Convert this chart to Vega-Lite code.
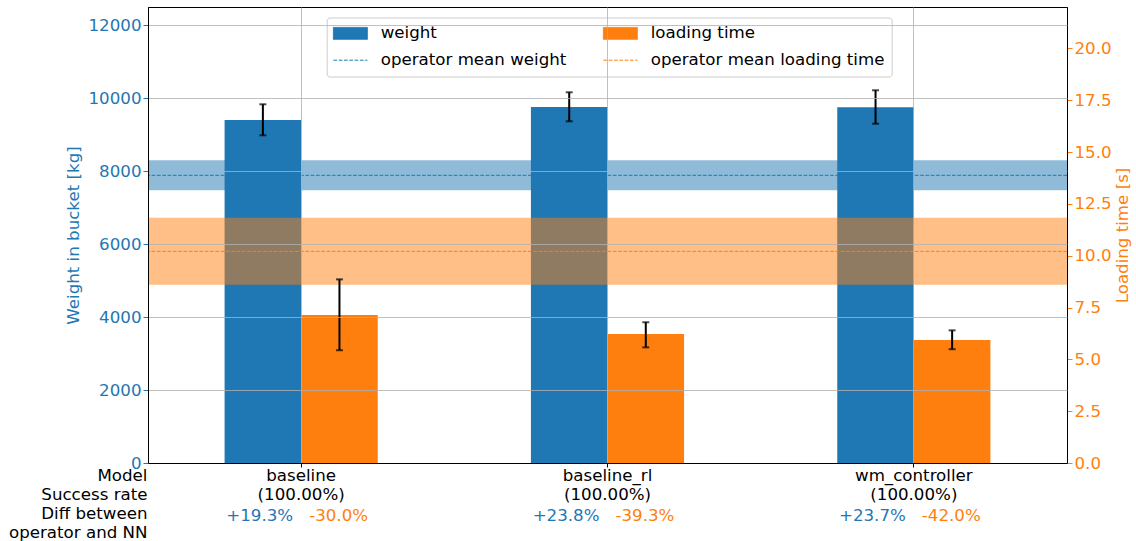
{
  "$schema": "https://vega.github.io/schema/vega-lite/v6.json",
  "width": 919,
  "height": 456,
  "autosize": {"type": "none"},
  "padding": {"left": 148, "top": 7, "right": 69, "bottom": 78},
  "background": "white",
  "config": {
    "font": "DejaVu Sans",
    "view": {"stroke": "black", "strokeWidth": 1},
    "axis": {
      "labelFont": "DejaVu Sans", "titleFont": "DejaVu Sans",
      "labelFontSize": 16.67, "titleFontSize": 16.67, "titleFontWeight": "normal",
      "domainColor": "black", "domainWidth": 1,
      "gridColor": "#b0b0b0", "gridWidth": 0.8, "gridOpacity": 1, "tickWidth": 1
    },
    "legend": {"labelFont": "DejaVu Sans", "labelFontSize": 16.67, "labelColor": "black"}
  },
  "datasets": {
    "models": [
      {"model": "baseline", "success": "(100.00%)", "weight": 9402, "w_lo": 8983, "w_hi": 9833, "time": 7.14, "t_lo": 5.44, "t_hi": 8.86, "w_diff": "+19.3%", "t_diff": "-30.0%"},
      {"model": "baseline_rl", "success": "(100.00%)", "weight": 9759, "w_lo": 9367, "w_hi": 10162, "time": 6.22, "t_lo": 5.58, "t_hi": 6.79, "w_diff": "+23.8%", "t_diff": "-39.3%"},
      {"model": "wm_controller", "success": "(100.00%)", "weight": 9752, "w_lo": 9301, "w_hi": 10217, "time": 5.93, "t_lo": 5.49, "t_hi": 6.40, "w_diff": "+23.7%", "t_diff": "-42.0%"}
    ],
    "operator": [
      {"w_mean": 7886, "w_lo": 7475, "w_hi": 8298, "t_mean": 10.21, "t_lo": 8.60, "t_hi": 11.83}
    ]
  },
  "layer": [
    {
      "layer": [
        {
          "data": {"name": "operator"},
          "mark": {"type": "rect", "color": "#1f77b4", "opacity": 0.5},
          "encoding": {
            "y": {
              "field": "w_lo", "type": "quantitative",
              "scale": {"domain": [0, 12500], "nice": false, "zero": false},
              "axis": {
                "orient": "left", "title": "Weight in bucket [kg]", "titleColor": "#1f77b4", "titlePadding": 6,
                "values": [0, 2000, 4000, 6000, 8000, 10000, 12000], "format": "d",
                "labelColor": "#1f77b4", "tickColor": "#1f77b4", "tickSize": 5, "labelPadding": 2,
                "grid": true, "zindex": 1
              }
            },
            "y2": {"field": "w_hi"}
          }
        },
        {
          "data": {"name": "models"},
          "mark": {"type": "bar"},
          "encoding": {
            "x": {
              "field": "model", "type": "nominal", "sort": null,
              "scale": {"type": "band", "paddingInner": 0, "paddingOuter": 0},
              "axis": {
                "title": ["Model", "Success rate", "Diff between", "operator and NN"],
                "titleX": -1, "titleY": 17, "titleAlign": "right", "titleBaseline": "alphabetic",
                "titleLineHeight": 19, "titleColor": "black",
                "labelExpr": "[datum.label, '(100.00%)']", "labelAngle": 0,
                "labelBaseline": "alphabetic", "labelLineHeight": 19, "labelColor": "black",
                "tickSize": 4, "tickColor": "black", "labelPadding": 13,
                "bandPosition": 0.5, "grid": true, "zindex": 1
              }
            },
            "xOffset": {"datum": "weight", "scale": {"domain": ["weight", "loading time"], "paddingInner": 0, "paddingOuter": 1}},
            "y": {"field": "weight", "type": "quantitative"},
            "color": {
              "datum": "weight",
              "scale": {
                "domain": ["weight", "loading time", "operator mean weight", "operator mean loading time"],
                "range": ["#1f77b4", "#ff7f0e", "#1f77b4", "#ff7f0e"]
              },
              "legend": {
                "title": null, "orient": "none", "legendX": 178.7, "legendY": 10.5,
                "columns": 2, "direction": "horizontal", "labelLimit": 0,
                "fillColor": "rgba(255,255,255,0.8)", "strokeColor": "#cccccc", "cornerRadius": 3,
                "padding": 6.7, "symbolSize": 289, "symbolOffset": 8, "labelOffset": 21.3,
                "columnPadding": 35, "rowPadding": 9, "symbolStrokeWidth": 1,
                "encode": {
                  "symbols": {
                    "update": {
                      "shape": {"signal": "indexof(datum.value, 'operator') === 0 ? 'M-2,0H2' : 'M-2,-0.7H2V0.7H-2Z'"},
                      "fill": {"signal": "indexof(datum.value, 'operator') === 0 ? 'transparent' : (datum.value === 'weight' ? '#1f77b4' : '#ff7f0e')"},
                      "stroke": {"signal": "datum.value === 'operator mean weight' ? '#1f77b4' : (datum.value === 'operator mean loading time' ? '#ff7f0e' : 'transparent')"},
                      "strokeDash": {"signal": "indexof(datum.value, 'operator') === 0 ? [3.7, 1.6] : [1, 0]"},
                      "strokeWidth": {"value": 1},
                      "opacity": {"value": 1},
                      "fillOpacity": {"value": 1}
                    }
                  }
                }
              }
            }
          }
        },
        {
          "data": {"name": "models"},
          "mark": {"type": "rule", "color": "black", "strokeWidth": 2},
          "encoding": {
            "x": {"field": "model", "type": "nominal", "sort": null},
            "xOffset": {"datum": "weight"},
            "y": {"field": "w_lo", "type": "quantitative"},
            "y2": {"field": "w_hi"}
          }
        },
        {
          "data": {"name": "models"},
          "mark": {"type": "tick", "color": "black", "size": 7, "thickness": 2, "orient": "horizontal"},
          "encoding": {
            "x": {"field": "model", "type": "nominal", "sort": null},
            "xOffset": {"datum": "weight"},
            "y": {"field": "w_lo", "type": "quantitative"}
          }
        },
        {
          "data": {"name": "models"},
          "mark": {"type": "tick", "color": "black", "size": 7, "thickness": 2, "orient": "horizontal"},
          "encoding": {
            "x": {"field": "model", "type": "nominal", "sort": null},
            "xOffset": {"datum": "weight"},
            "y": {"field": "w_hi", "type": "quantitative"}
          }
        },
        {
          "data": {"name": "operator"},
          "mark": {"type": "rule", "strokeWidth": 1, "strokeDash": [3.7, 1.6]},
          "encoding": {
            "y": {"field": "w_mean", "type": "quantitative"},
            "color": {"datum": "operator mean weight"}
          }
        },
        {
          "data": {"name": "models"},
          "mark": {"type": "text", "align": "right", "baseline": "alphabetic", "dx": -8, "dy": 57.5, "fontSize": 16.67, "color": "#1f77b4", "font": "DejaVu Sans"},
          "encoding": {
            "x": {"field": "model", "type": "nominal", "sort": null},
            "y": {"datum": 0, "type": "quantitative"},
            "text": {"field": "w_diff"}
          }
        },
        {
          "data": {"name": "models"},
          "mark": {"type": "text", "align": "left", "baseline": "alphabetic", "dx": 8, "dy": 57.5, "fontSize": 16.67, "color": "#ff7f0e", "font": "DejaVu Sans"},
          "encoding": {
            "x": {"field": "model", "type": "nominal", "sort": null},
            "y": {"datum": 0, "type": "quantitative"},
            "text": {"field": "t_diff"}
          }
        }
      ]
    },
    {
      "layer": [
        {
          "data": {"name": "operator"},
          "mark": {"type": "rect", "color": "#ff7f0e", "opacity": 0.5},
          "encoding": {
            "y": {
              "field": "t_lo", "type": "quantitative",
              "scale": {"domain": [0, 22], "nice": false, "zero": false},
              "axis": {
                "orient": "right", "title": "Loading time [s]", "titleColor": "#ff7f0e",
                "titleAngle": 270, "titleBaseline": "top", "titlePadding": 3,
                "values": [0, 2.5, 5, 7.5, 10, 12.5, 15, 17.5, 20], "format": ".1f",
                "labelColor": "#ff7f0e", "tickColor": "#ff7f0e", "tickSize": 5, "labelPadding": 2,
                "grid": false
              }
            },
            "y2": {"field": "t_hi"}
          }
        },
        {
          "data": {"name": "models"},
          "mark": {"type": "bar"},
          "encoding": {
            "x": {"field": "model", "type": "nominal", "sort": null},
            "xOffset": {"datum": "loading time"},
            "y": {"field": "time", "type": "quantitative"},
            "color": {"datum": "loading time"}
          }
        },
        {
          "data": {"name": "models"},
          "mark": {"type": "rule", "color": "black", "strokeWidth": 2},
          "encoding": {
            "x": {"field": "model", "type": "nominal", "sort": null},
            "xOffset": {"datum": "loading time"},
            "y": {"field": "t_lo", "type": "quantitative"},
            "y2": {"field": "t_hi"}
          }
        },
        {
          "data": {"name": "models"},
          "mark": {"type": "tick", "color": "black", "size": 7, "thickness": 2, "orient": "horizontal"},
          "encoding": {
            "x": {"field": "model", "type": "nominal", "sort": null},
            "xOffset": {"datum": "loading time"},
            "y": {"field": "t_lo", "type": "quantitative"}
          }
        },
        {
          "data": {"name": "models"},
          "mark": {"type": "tick", "color": "black", "size": 7, "thickness": 2, "orient": "horizontal"},
          "encoding": {
            "x": {"field": "model", "type": "nominal", "sort": null},
            "xOffset": {"datum": "loading time"},
            "y": {"field": "t_hi", "type": "quantitative"}
          }
        },
        {
          "data": {"name": "operator"},
          "mark": {"type": "rule", "strokeWidth": 1, "strokeDash": [3.7, 1.6]},
          "encoding": {
            "y": {"field": "t_mean", "type": "quantitative"},
            "color": {"datum": "operator mean loading time"}
          }
        }
      ]
    }
  ],
  "resolve": {"scale": {"y": "independent"}, "axis": {"y": "independent"}}
}
